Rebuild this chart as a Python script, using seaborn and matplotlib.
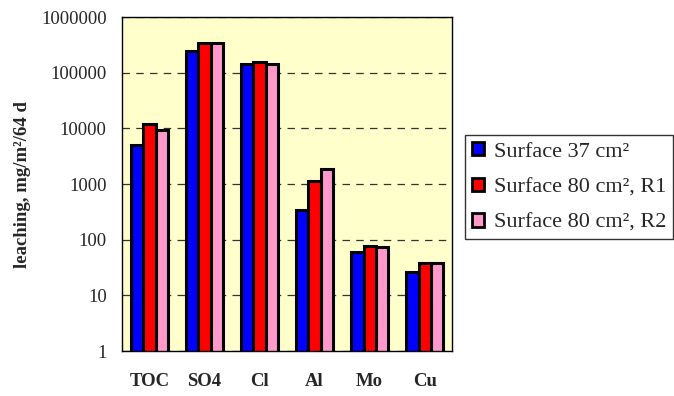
import matplotlib
matplotlib.use("Agg")
import matplotlib.pyplot as plt
import matplotlib.ticker as mticker
from matplotlib.patches import Patch
import numpy as np
import pandas as pd
import seaborn as sns

categories = ["TOC", "SO4", "Cl", "Al", "Mo", "Cu"]
series = ["Surface 37 cm²", "Surface 80 cm², R1", "Surface 80 cm², R2"]
surface_37 = [5000, 250000, 142000, 340, 61, 26.5]
surface_80_r1 = [12000, 340000, 155000, 1130, 77, 38.5]
surface_80_r2 = [9300, 340000, 146000, 1850, 73, 38.5]
colors = ["#0000FF", "#FF0000", "#FF99CC"]
yticks = [1, 10, 100, 1000, 10000, 100000, 1000000]

df = pd.DataFrame({
    "element": categories * 3,
    "series": [series[0]] * 6 + [series[1]] * 6 + [series[2]] * 6,
    "value": surface_37 + surface_80_r1 + surface_80_r2,
})

sns.set_style("white")
plt.rcParams["font.family"] = ["Liberation Serif", "DejaVu Serif"]

fig = plt.figure(figsize=(6.74, 3.96), dpi=100)
ax = fig.add_axes([0.181, 0.1136, 0.49, 0.843])
ax.set_facecolor("#FFFFCC")

sns.barplot(data=df, x="element", y="value", hue="series", order=categories,
            hue_order=series, palette=colors, width=0.67, saturation=1,
            edgecolor="black", linewidth=2.2, ax=ax, legend=False)

ax.set_yscale("log")
ax.set_ylim(1, 1e6)
ax.set_xlim(-0.5, len(categories) - 0.5)
ax.yaxis.set_major_locator(mticker.FixedLocator(yticks))
ax.yaxis.set_major_formatter(mticker.FixedFormatter([str(v) for v in yticks]))
ax.yaxis.set_minor_locator(mticker.NullLocator())
ax.grid(axis="y", which="major", color="#333333", linestyle=(0, (6, 5)), linewidth=0.9)
ax.set_axisbelow(True)

# category labels without ticks; ticks sit on category boundaries
ax.set_xticks(range(len(categories)))
ax.set_xticklabels(categories, fontsize=13.5, fontweight="bold")
ax.set_xticks(np.arange(-0.5, len(categories)), minor=True)
ax.tick_params(axis="x", which="major", length=0, pad=16)
ax.tick_params(axis="x", which="minor", length=5, width=1, color="black", direction="out")
ax.tick_params(axis="y", which="major", length=5, width=1, color="black", direction="out",
               labelsize=13.5, pad=6)
for s in ax.spines.values():
    s.set_color("black")
    s.set_linewidth(1.0)

ax.set_xlabel("")
ax.set_ylabel("leaching, mg/m²/64 d", fontsize=13.5, fontweight="bold", labelpad=7)

handles = [Patch(facecolor=c, edgecolor="black", linewidth=2) for c in colors]
leg = fig.legend(handles, series, loc="upper left", bbox_to_anchor=(0.69, 0.658),
                 fontsize=16, frameon=True, fancybox=False, handlelength=0.55,
                 handleheight=0.55, handletextpad=0.45, labelspacing=0.72,
                 borderpad=0.3, borderaxespad=0)
leg.get_frame().set_edgecolor("black")
leg.get_frame().set_linewidth(1.0)

fig.savefig("out.png", dpi=100)
